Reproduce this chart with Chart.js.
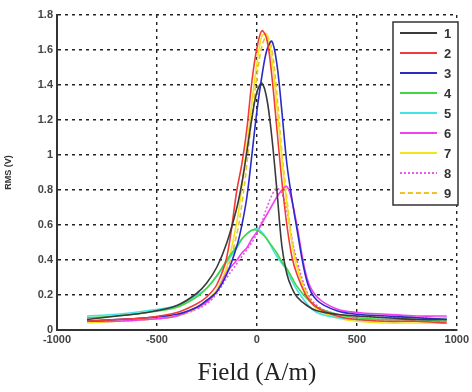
<!DOCTYPE html>
<html>
<head>
<meta charset="utf-8">
<script src="https://cdn.jsdelivr.net/npm/chart.js@4.4.0/dist/chart.umd.min.js"></script>
<style>
  html, body { margin: 0; padding: 0; background: #fff; }
  #wrap { width: 472px; height: 392px; }
</style>
</head>
<body>
<div id="wrap"><canvas id="chart" width="472" height="392"></canvas></div>
<script>
// campo aplicado (A/m)
const campo = [-850, -700, -550, -400, -300, -250, -200, -150, -100, -75, -50, -25, 0, 25, 50, 75, 100, 125, 150, 175, 200, 250, 300, 400, 500, 650, 800, 950];

const nomes = ['1', '2', '3', '4', '5', '6', '7', '8', '9'];

// RMS (V)
const s1 = [0.06, 0.08, 0.10, 0.14, 0.21, 0.27, 0.36, 0.50, 0.70, 0.84, 1.02, 1.21, 1.36, 1.41, 1.32, 1.10, 0.80, 0.48, 0.32, 0.24, 0.19, 0.14, 0.11, 0.09, 0.08, 0.07, 0.06, 0.06];
const s2 = [0.05, 0.06, 0.07, 0.10, 0.15, 0.19, 0.26, 0.42, 0.80, 0.95, 1.15, 1.42, 1.61, 1.71, 1.66, 1.45, 1.15, 0.85, 0.60, 0.42, 0.32, 0.19, 0.13, 0.08, 0.06, 0.05, 0.05, 0.04];
const s3 = [0.05, 0.06, 0.07, 0.09, 0.13, 0.17, 0.22, 0.32, 0.48, 0.60, 0.76, 1.00, 1.25, 1.45, 1.60, 1.65, 1.52, 1.25, 0.95, 0.75, 0.58, 0.28, 0.17, 0.11, 0.09, 0.08, 0.07, 0.06];
const s4 = [0.07, 0.08, 0.10, 0.13, 0.19, 0.24, 0.31, 0.40, 0.48, 0.52, 0.55, 0.57, 0.57, 0.55, 0.52, 0.48, 0.44, 0.39, 0.35, 0.30, 0.25, 0.18, 0.13, 0.09, 0.07, 0.06, 0.06, 0.05];
const s5 = [0.08, 0.09, 0.11, 0.14, 0.20, 0.24, 0.31, 0.39, 0.47, 0.52, 0.55, 0.57, 0.58, 0.56, 0.52, 0.47, 0.42, 0.38, 0.34, 0.28, 0.23, 0.15, 0.10, 0.07, 0.06, 0.06, 0.06, 0.07];
const s6 = [0.05, 0.05, 0.06, 0.08, 0.13, 0.16, 0.22, 0.33, 0.40, 0.44, 0.47, 0.52, 0.56, 0.61, 0.66, 0.71, 0.76, 0.80, 0.82, 0.74, 0.60, 0.30, 0.19, 0.12, 0.10, 0.09, 0.08, 0.08];
const s7 = [0.04, 0.05, 0.06, 0.08, 0.13, 0.17, 0.23, 0.36, 0.62, 0.82, 1.05, 1.30, 1.52, 1.68, 1.69, 1.55, 1.28, 0.98, 0.72, 0.50, 0.36, 0.20, 0.12, 0.07, 0.05, 0.04, 0.04, 0.04];
const s8 = [0.05, 0.05, 0.06, 0.08, 0.12, 0.15, 0.21, 0.30, 0.38, 0.42, 0.46, 0.50, 0.55, 0.62, 0.70, 0.77, 0.81, 0.78, 0.68, 0.52, 0.40, 0.22, 0.14, 0.09, 0.08, 0.07, 0.07, 0.06];
const s9 = [0.05, 0.05, 0.06, 0.08, 0.12, 0.16, 0.22, 0.34, 0.55, 0.72, 0.95, 1.22, 1.45, 1.62, 1.68, 1.60, 1.35, 1.02, 0.75, 0.52, 0.38, 0.21, 0.13, 0.08, 0.06, 0.05, 0.05, 0.05];

const ticksX = [-1000, -500, 0, 500, 1000];
const ticksY = [0, 0.2, 0.4, 0.6, 0.8, 1, 1.2, 1.4, 1.6, 1.8];

const series = [s1, s2, s3, s4, s5, s6, s7, s8, s9];
const cores = ['#3a3a3a', '#f23a3a', '#2a2ac8', '#44d444', '#44e4e4', '#f040f0', '#f2e41e', '#e05ee0', '#f0c030'];
const tracos = [[], [], [], [], [], [], [], [2, 2], [5, 3]];

const datasets = series.map((vals, i) => ({
    label: nomes[i],
    data: vals.map((v, j) => ({ x: campo[j], y: v })),
    borderColor: cores[i],
    borderWidth: 1.6,
    borderDash: tracos[i],
    pointRadius: 0,
    showLine: true,
    tension: 0.35,
    fill: false
}));

// legenda desenhada dentro da área do gráfico
const legendaBox = {
    id: 'legendaBox',
    afterDatasetsDraw(chart) {
        const ctx = chart.ctx;
        const x0 = 393, y0 = 22, w = 65, h = 183;
        ctx.save();
        ctx.fillStyle = '#fff';
        ctx.fillRect(x0, y0, w, h);
        ctx.strokeStyle = '#333';
        ctx.lineWidth = 1.5;
        ctx.strokeRect(x0, y0, w, h);
        chart.data.datasets.forEach((ds, i) => {
            const y = 33 + i * 20;
            ctx.beginPath();
            ctx.setLineDash(ds.borderDash || []);
            ctx.strokeStyle = ds.borderColor;
            ctx.lineWidth = 2;
            ctx.moveTo(400, y);
            ctx.lineTo(437, y);
            ctx.stroke();
            ctx.setLineDash([]);
            ctx.fillStyle = '#333';
            ctx.font = 'bold 13px "Liberation Sans", Arial';
            ctx.textBaseline = 'middle';
            ctx.fillText(ds.label, 444, y + 1);
        });
        ctx.restore();
    }
};

const fonteTick = { family: 'Liberation Sans', size: 11, weight: 'bold' };

new Chart(document.getElementById('chart'), {
    type: 'scatter',
    data: { datasets: datasets },
    plugins: [legendaBox],
    options: {
        responsive: false,
        animation: false,
        layout: { padding: { top: 15, right: -18, left: 3, bottom: 0 } },
        plugins: {
            legend: { display: false },
            tooltip: { enabled: false }
        },
        scales: {
            x: {
                type: 'linear',
                min: -1000,
                max: 1000,
                afterBuildTicks: s => { s.ticks = ticksX.map(v => ({ value: v })); },
                afterFit: s => { s.height = 62; },
                ticks: { color: '#444', font: fonteTick, padding: 3, maxRotation: 0, callback: v => String(v) },
                grid: { color: '#222', lineWidth: 1.4, drawTicks: false },
                border: { display: true, color: '#333', width: 2, dash: [3, 4] },
                title: { display: true, text: 'Field (A/m)', color: '#222', font: { family: 'Liberation Serif', size: 25 }, padding: { top: 4 } }
            },
            y: {
                min: 0,
                max: 1.8,
                afterBuildTicks: s => { s.ticks = ticksY.map(v => ({ value: v })); },
                afterFit: s => { s.width = 54; },
                ticks: { color: '#444', font: fonteTick, padding: 4, callback: v => String(v) },
                grid: { color: '#222', lineWidth: 1.4, drawTicks: false },
                border: { display: true, color: '#333', width: 2, dash: [3, 4] },
                title: { display: true, text: 'RMS (V)', color: '#333', font: { family: 'Liberation Sans', size: 9, weight: 'bold' }, padding: 0 }
            }
        }
    }
});
</script>
</body>
</html>
